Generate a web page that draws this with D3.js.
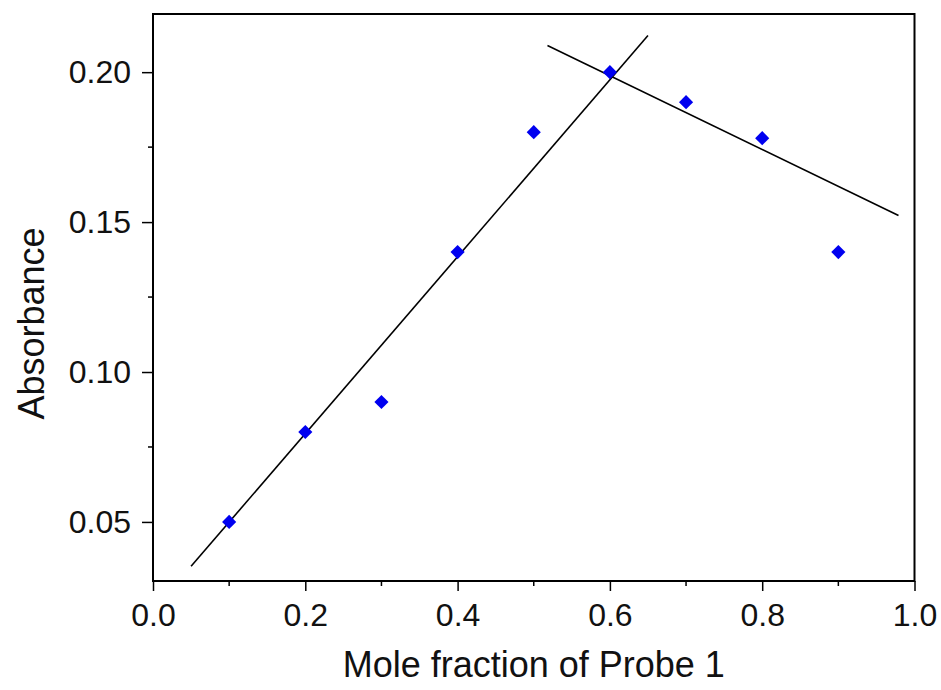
<!DOCTYPE html>
<html>
<head>
<meta charset="utf-8">
<script src="https://cdn.jsdelivr.net/npm/d3@7"></script>
<style>
  body { margin: 0; background: #fff; }
  svg { font-family: "Liberation Sans", Arial, sans-serif; }
</style>
</head>
<body>
<div id="chart"></div>
<script>
// ============ Data ============
const moleFraction = [0.1, 0.2, 0.3, 0.4, 0.5, 0.6, 0.7, 0.8, 0.9];
const absorbance   = [0.05, 0.08, 0.09, 0.14, 0.18, 0.20, 0.19, 0.178, 0.14];
// fitted lines, endpoints
const riseLine = [[0.05, 0.0352], [0.65, 0.2122]];
const fallLine = [[0.518, 0.2089], [0.979, 0.1522]];
const xTicks = [0, 0.2, 0.4, 0.6, 0.8, 1.0];
const yTicks = [0.05, 0.10, 0.15, 0.20];
const xMinor = [0.1, 0.3, 0.5, 0.7, 0.9];
const yMinor = [0.075, 0.125, 0.175];

const W = 941, H = 690;
const m = { left: 153, right: 941 - 914.5, top: 14, bottom: 690 - 581 };

const svg = d3.select('#chart').append('svg')
  .attr('width', W).attr('height', H);

const x = d3.scaleLinear().domain([0, 1]).range([m.left, W - m.right]);
const y = d3.scaleLinear().domain([0.0303, 0.2194]).range([H - m.bottom, m.top]);

// ── Minor ticks ──
svg.append('g').selectAll('line').data(xMinor).enter().append('line')
  .attr('x1', d => x(d)).attr('x2', d => x(d))
  .attr('y1', H - m.bottom).attr('y2', H - m.bottom + 5)
  .attr('stroke', '#000').attr('stroke-width', 1.5);

svg.append('g').selectAll('line').data(yMinor).enter().append('line')
  .attr('y1', d => y(d)).attr('y2', d => y(d))
  .attr('x1', m.left).attr('x2', m.left - 5)
  .attr('stroke', '#000').attr('stroke-width', 1.5);

// ── Axes ──
const xAxis = svg.append('g')
  .attr('transform', `translate(0,${H - m.bottom})`)
  .call(d3.axisBottom(x).tickValues(xTicks).tickFormat(d3.format('.1f')).tickSize(10).tickPadding(12));

const yAxis = svg.append('g')
  .attr('transform', `translate(${m.left},0)`)
  .call(d3.axisLeft(y).tickValues(yTicks).tickFormat(d3.format('.2f')).tickSize(11).tickPadding(11));

[xAxis, yAxis].forEach(a => {
  a.attr('font-size', null).attr('font-family', null);
  a.select('.domain').remove();
  a.selectAll('line').attr('stroke', '#000').attr('stroke-width', 1.5);
  a.selectAll('text').style('font-size', '32px').attr('fill', '#111');
});

// ── Frame ──
svg.append('rect')
  .attr('x', m.left).attr('y', m.top)
  .attr('width', W - m.right - m.left).attr('height', H - m.bottom - m.top)
  .attr('fill', 'none').attr('stroke', '#000').attr('stroke-width', 2);

// ── Fit lines ──
const line = d3.line().x(d => x(d[0])).y(d => y(d[1]));
[riseLine, fallLine].forEach(l => {
  svg.append('path').attr('d', line(l))
    .attr('fill', 'none').attr('stroke', '#000').attr('stroke-width', 1.6);
});

// ── Points (diamonds) ──
const pts = moleFraction.map((v, i) => ({ x: v, y: absorbance[i] }));
svg.append('g').selectAll('path').data(pts).enter().append('path')
  .attr('d', d3.symbol().type(d3.symbolSquare).size(100))
  .attr('transform', d => `translate(${x(d.x)},${y(d.y)}) rotate(45)`)
  .attr('fill', '#0000f0');

// ── Axis titles ──
svg.append('text')
  .attr('x', (m.left + W - m.right) / 2).attr('y', 677)
  .attr('text-anchor', 'middle').style('font-size', '36px').attr('fill', '#111')
  .text('Mole fraction of Probe 1');

svg.append('text')
  .attr('transform', `translate(44,${(m.top + H - m.bottom) / 2 + 26}) rotate(-90)`)
  .attr('text-anchor', 'middle').style('font-size', '36px').attr('fill', '#111')
  .text('Absorbance');
</script>
</body>
</html>
